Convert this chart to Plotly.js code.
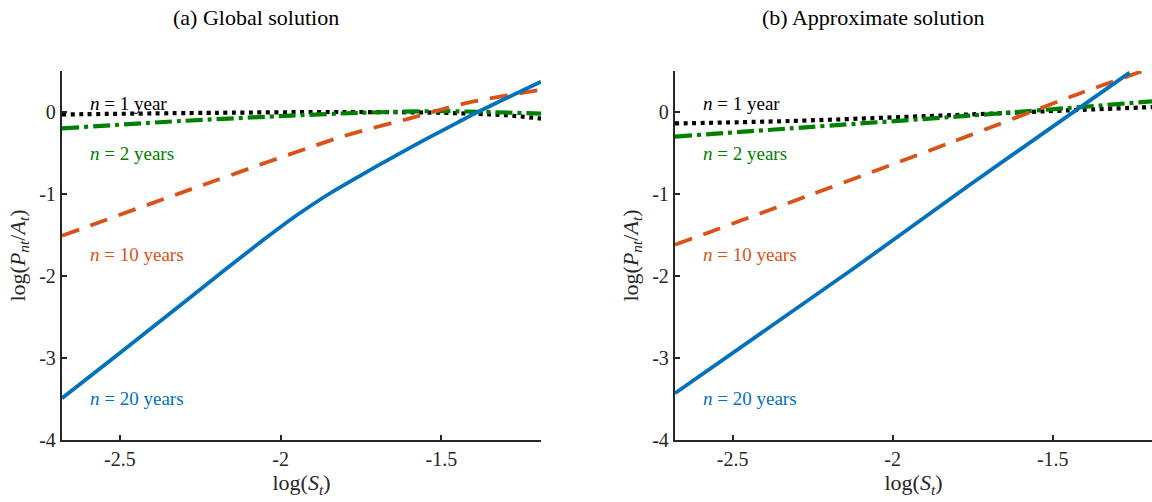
<!DOCTYPE html>
<html>
<head>
<meta charset="utf-8">
<script src="https://cdn.plot.ly/plotly-3.0.1.min.js"></script>
<style>html,body{margin:0;padding:0;background:#fff;}#chart{width:1152px;height:502px;}</style>
</head>
<body>
<div id="chart"></div>
<script>
// ---- Data ----
// (a) Global solution
const g1x = [-2.68, -2.2, -1.8, -1.5, -1.3, -1.19];
const g1y = [-0.03, -0.01, 0.0, -0.01, -0.04, -0.08];
const g2x = [-2.68, -2.31, -2.0, -1.75, -1.5, -1.19];
const g2y = [-0.20, -0.11, -0.05, -0.01, 0.01, -0.02];
const g10x = [-2.68, -2.27, -1.80, -1.6, -1.5, -1.41, -1.19];
const g10y = [-1.51, -0.93, -0.29, -0.08, 0.03, 0.12, 0.27];
const g20x = [-2.68, -2.5, -2.3, -2.178, -2.05, -1.95, -1.85, -1.752, -1.65, -1.545, -1.45, -1.389, -1.3, -1.19];
const g20y = [-3.49, -2.94, -2.32, -1.94, -1.55, -1.26, -1.00, -0.775, -0.55, -0.325, -0.13, -0.005, 0.165, 0.37];
// (b) Approximate solution
const a1x = [-2.68, -2.32, -1.76, -1.45, -1.19];
const a1y = [-0.14, -0.11, -0.03, 0.02, 0.06];
const a2x = [-2.68, -2.32, -1.76, -1.19];
const a2y = [-0.30, -0.20, -0.045, 0.13];
const a10x = [-2.68, -2.27, -1.81, -1.42, -1.19];
const a10y = [-1.62, -1.03, -0.36, 0.22, 0.54];
const a20x = [-2.68, -2.13, -1.76, -1.26];
const a20y = [-3.43, -1.93, -0.89, 0.48];

const seriesLabels = ["<i>n</i> = 1 year", "<i>n</i> = 2 years", "<i>n</i> = 10 years", "<i>n</i> = 20 years"];
const labelY = [0.1, -0.51, -1.74, -3.49];
const panelTitles = ["(a) Global solution", "(b) Approximate solution"];
const xTickVals = [-2.5, -2, -1.5];
const xTickText = ["-2.5", "-2", "-1.5"];
const yTickVals = [-4, -3, -2, -1, 0];
const yTickText = ["-4", "-3", "-2", "-1", "0"];

// ---- Styles ----
const FONT = "Liberation Serif, Times New Roman, serif";
const colors = ["#000000", "#008000", "#D95319", "#0072BD"];
const dashes = ["4px,4.5px", "17px,5px,4px,5px", "18px,12px", "solid"];
const widths = [4.2, 4.2, 3.8, 3.8];

function mk(x, y, i, ax) {
  return {
    x: x, y: y, type: "scatter", mode: "lines",
    xaxis: ax === 1 ? "x" : "x2", yaxis: ax === 1 ? "y" : "y2",
    line: {color: colors[i], width: widths[i], dash: dashes[i], shape: "spline", smoothing: 0.8},
    showlegend: false, hoverinfo: "skip"
  };
}

const traces = [
  mk(g1x, g1y, 0, 1), mk(g2x, g2y, 1, 1), mk(g10x, g10y, 2, 1), mk(g20x, g20y, 3, 1),
  mk(a1x, a1y, 0, 2), mk(a2x, a2y, 1, 2), mk(a10x, a10y, 2, 2), mk(a20x, a20y, 3, 2)
];

const axisColor = "#262626";
function xax(domain, anchor) {
  return {
    domain: domain, anchor: anchor, range: [-2.68, -1.19],
    showgrid: false, zeroline: false, showline: true, linecolor: axisColor, linewidth: 2.2,
    ticks: "inside", ticklen: 5, tickwidth: 1.8, tickcolor: axisColor,
    tickvals: xTickVals, ticktext: xTickText,
    tickfont: {family: FONT, size: 20, color: axisColor},
    title: {text: "log(<i>S</i><sub><i>t</i></sub>)", font: {family: FONT, size: 22, color: axisColor}, standoff: 0}
  };
}
function yax(anchor) {
  return {
    domain: [0.1235, 0.8586], anchor: anchor, range: [-4, 0.5],
    showgrid: false, zeroline: false, showline: true, linecolor: axisColor, linewidth: 2.2,
    ticks: "inside", ticklen: 5, tickwidth: 1.8, tickcolor: axisColor,
    tickvals: yTickVals, ticktext: yTickText,
    tickfont: {family: FONT, size: 20, color: axisColor},
    title: {text: "log(<i>P</i><sub><i>nt</i></sub>/<i>A</i><sub><i>t</i></sub>)", font: {family: FONT, size: 22, color: axisColor}, standoff: 8}
  };
}

const annotations = [];
["x", "x2"].forEach(function (xr, p) {
  const yr = p === 0 ? "y" : "y2";
  seriesLabels.forEach(function (t, i) {
    annotations.push({
      x: -2.6, y: labelY[i], xref: xr, yref: yr, text: t, showarrow: false,
      xanchor: "left", yanchor: "middle",
      font: {family: FONT, size: 19, color: colors[i]}
    });
  });
});
annotations.push({x: 256 / 1152, y: 1 - 18 / 502, xref: "paper", yref: "paper", text: panelTitles[0],
  showarrow: false, xanchor: "center", yanchor: "middle", font: {family: FONT, size: 22, color: "#000"}});
annotations.push({x: 873 / 1152, y: 1 - 18 / 502, xref: "paper", yref: "paper", text: panelTitles[1],
  showarrow: false, xanchor: "center", yanchor: "middle", font: {family: FONT, size: 22, color: "#000"}});

const layout = {
  width: 1152, height: 502,
  margin: {l: 0, r: 0, t: 0, b: 0},
  paper_bgcolor: "#fff", plot_bgcolor: "#fff",
  xaxis: xax([62 / 1152, 541 / 1152], "y"),
  yaxis: yax("x"),
  xaxis2: xax([675 / 1152, 1], "y2"),
  yaxis2: yax("x2"),
  annotations: annotations,
  showlegend: false
};

Plotly.newPlot("chart", traces, layout, {displayModeBar: false, staticPlot: true});
</script>
</body>
</html>
